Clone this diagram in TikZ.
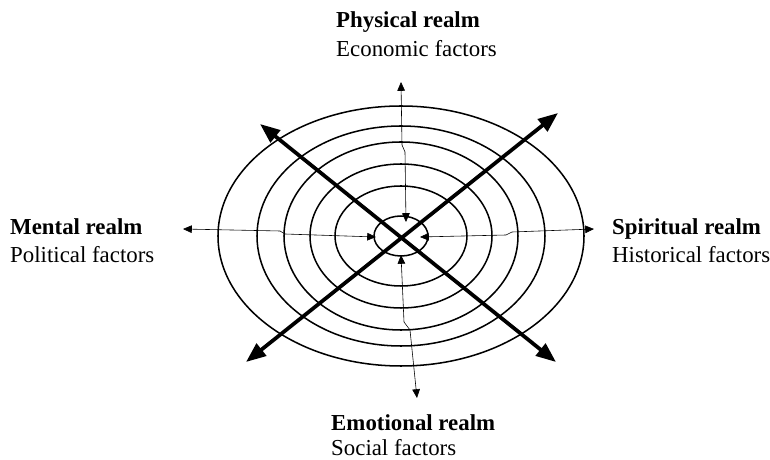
\documentclass[tikz,border=0pt]{standalone}
\usepackage{fontspec}
\setmainfont{Liberation Serif}
\usetikzlibrary{arrows.meta}
\tikzset{
  ring/.style={line width=1.3pt},
  bigarrow/.style={line width=3.2pt,{Triangle[length=17pt,width=13pt]}-{Triangle[length=17pt,width=13pt]}},
  smallarrow/.style={line width=0.5pt,{Triangle[length=7.5pt,width=6.5pt]}-{Triangle[length=7.5pt,width=6.5pt]}},
  realm/.style={font=\fontsize{19.5}{23}\selectfont\bfseries,inner sep=0pt,anchor=base west},
  factor/.style={font=\fontsize{19.5}{23}\selectfont,inner sep=0pt,anchor=base west}
}
\begin{document}
\begin{tikzpicture}[x=0.03cm,y=-0.03cm]
\useasboundingbox(0,0)rectangle(770,460);
\coordinate(O)at(401,236);
% rings
\draw[ring](O)ellipse(183 and 130);
\draw[ring](O)ellipse(144 and 110);
\draw[ring](O)ellipse(117 and 94);
\draw[ring](O)ellipse(91 and 72);
\draw[ring](O)ellipse(66 and 50);
\draw[ring](O)ellipse(27 and 20);
% diagonal arrows
\coordinate(ul)at(260,124);
\coordinate(lr)at(556,362);
\coordinate(ur)at(558,113);
\coordinate(ll)at(246,362);
\draw[bigarrow](ul)--(lr);
\draw[bigarrow](ll)--(ur);
% thin arrows
\coordinate(upin)at(406,222);
\coordinate(upa)at(405,152);
\coordinate(upb)at(402,145);
\coordinate(upout)at(401,82);
\draw[smallarrow](upin)--(upa)--(upb)--(upout);
\coordinate(dnin)at(401,255);
\coordinate(dna)at(404,322);
\coordinate(dnb)at(410,330);
\coordinate(dnout)at(417,398);
\draw[smallarrow](dnin)--(dna)--(dnb)--(dnout);
\coordinate(lfin)at(376,237);
\coordinate(lfa)at(285,234);
\coordinate(lfb)at(280,231);
\coordinate(lfout)at(183,229);
\draw[smallarrow](lfin)--(lfa)--(lfb)--(lfout);
\coordinate(rtin)at(420,237);
\coordinate(rta)at(506,235);
\coordinate(rtb)at(512,232);
\coordinate(rtout)at(594,229);
\draw[smallarrow](rtin)--(rta)--(rtb)--(rtout);
% labels
\node[realm](physical)at(336,28){Physical realm};
\node[factor](economic)at(336,57){Economic factors};
\node[realm](mental)at(10,235){Mental realm};
\node[factor](political)at(10,263){Political factors};
\node[realm](spiritual)at(612,235){Spiritual realm};
\node[factor](historical)at(612,263){Historical factors};
\node[realm](emotional)at(331,431){Emotional realm};
\node[factor](social)at(331,456){Social factors};
\end{tikzpicture}
\end{document}
